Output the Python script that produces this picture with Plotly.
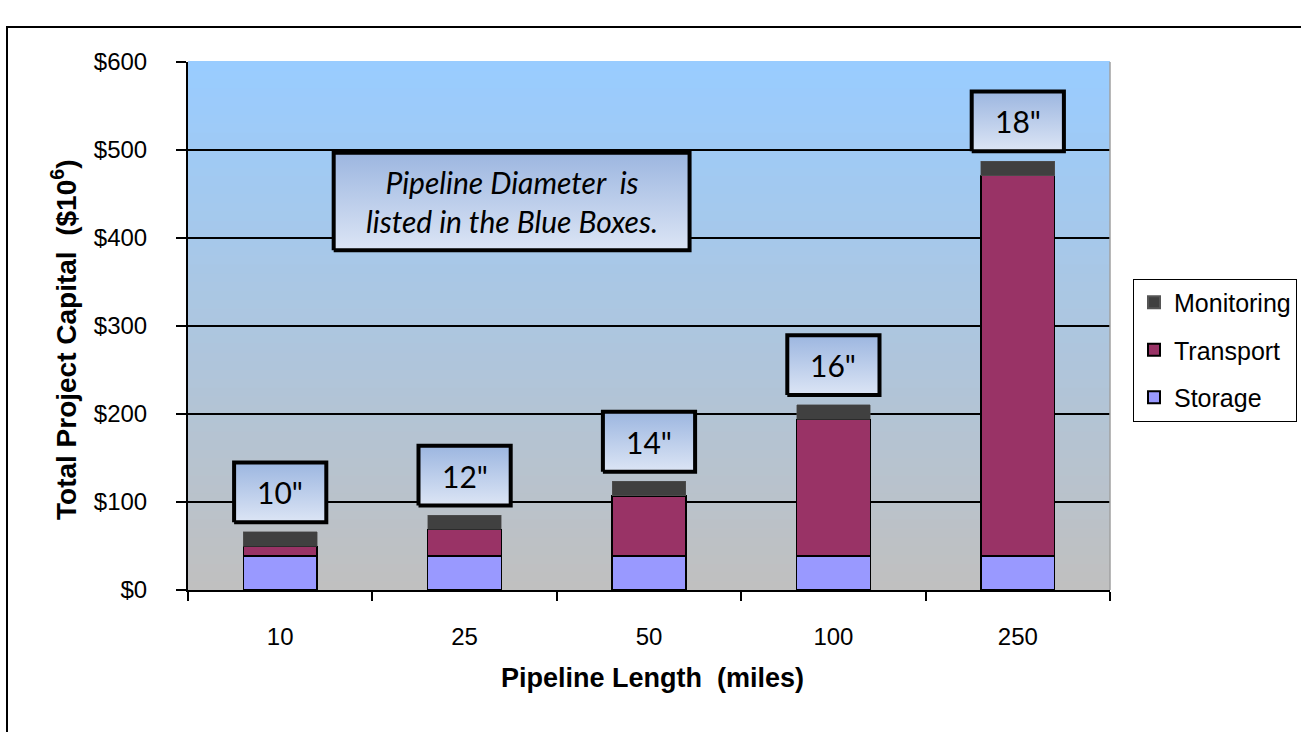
import plotly.graph_objects as go

# ---- data ----
lengths = ["10", "25", "50", "100", "250"]          # pipeline length (miles)
diameters = ['10"', '12"', '14"', '16"', '18"']      # pipeline diameter labels
storage = [38.5, 38.5, 38.5, 38.5, 38.5]
transport = [11, 30.5, 68.5, 155.5, 432.5]
monitoring = [16.5, 16, 16.5, 16.5, 16.5]
y_ticks = [0, 100, 200, 300, 400, 500, 600]
y_ticktext = ["$0", "$100", "$200", "$300", "$400", "$500", "$600"]

xpos = list(range(len(lengths)))
totals = [s + t + m for s, t, m in zip(storage, transport, monitoring)]

fig = go.Figure()

fig.add_trace(go.Bar(name="Storage", x=xpos, y=storage, width=0.4, legendgroup="s", legendrank=3,
                     marker=dict(color="#9999FF", line=dict(color="black", width=1.5))))
fig.add_trace(go.Bar(name="Transport", x=xpos, y=transport, width=0.4, legendgroup="t", legendrank=2,
                     marker=dict(color="#993366", line=dict(color="black", width=1.5))))
fig.add_trace(go.Bar(name="Monitoring", x=xpos, y=monitoring, width=0.4, legendgroup="m", legendrank=1,
                     marker=dict(color="#404040", line=dict(color="#555555", width=0.5))))

box_scale = [[0, "#DCE5F5"], [1, "#9CB6E0"]]
box_font = dict(family="Lato, Open Sans, sans-serif", size=30, color="black")

# diameter label boxes above each bar
gap = 11   # $ units above bar
bh = 68    # box height in $ units
bw = 0.25  # half width in category units
for x, tot, d in zip(xpos, totals, diameters):
    y0 = tot + gap
    y1 = y0 + bh
    fig.add_trace(go.Scatter(
        x=[x - bw, x + bw, x + bw, x - bw, x - bw],
        y=[y0, y0, y1, y1, y0],
        mode="lines", fill="toself",
        fillgradient=dict(type="vertical", colorscale=box_scale),
        line=dict(color="black", width=4),
        showlegend=False, hoverinfo="skip"))
    fig.add_annotation(x=x, y=(y0 + y1) / 2, text=d, showarrow=False, font=box_font)

# note box
nx0, nx1, ny0, ny1 = 0.29, 2.22, 386, 497
fig.add_trace(go.Scatter(
    x=[nx0, nx1, nx1, nx0, nx0], y=[ny0, ny0, ny1, ny1, ny0],
    mode="lines", fill="toself",
    fillgradient=dict(type="vertical", colorscale=box_scale),
    line=dict(color="black", width=4),
    showlegend=False, hoverinfo="skip"))
fig.add_annotation(x=(nx0 + nx1) / 2, y=(ny0 + ny1) / 2,
                   text="<i>Pipeline Diameter  is<br>listed in the Blue Boxes.</i>",
                   showarrow=False, align="center", font=box_font)

# axis titles
fig.add_annotation(xref="paper", yref="paper", x=(652 - 188) / 922, y=(590 - 678) / 528,
                   text="<b>Pipeline Length  (miles)</b>", showarrow=False,
                   xanchor="center", yanchor="middle", font=dict(size=27))
fig.add_annotation(xref="paper", yref="paper", x=(64 - 188) / 922, y=(590 - 340) / 528,
                   text="<b>Total Project Capital  ($10<sup>6</sup>)</b>", showarrow=False,
                   textangle=-90, xanchor="center", yanchor="middle", font=dict(size=28))

# gradient plot background (blue top -> gray bottom)
shapes = []
n = 60
top = (153, 204, 255)
bot = (192, 192, 192)
for i in range(n):
    f = i / (n - 1)
    c = tuple(round(bot[k] + (top[k] - bot[k]) * f) for k in range(3))
    shapes.append(dict(type="rect", xref="paper", yref="paper",
                       x0=0, x1=1, y0=i / n, y1=(i + 1) / n + 0.002,
                       fillcolor="rgb(%d,%d,%d)" % c, line=dict(width=0), layer="below"))
# outer frame
shapes.append(dict(type="rect", xref="paper", yref="paper",
                   x0=(7 - 188) / 922, x1=(1320 - 188) / 922,
                   y0=(590 - 745) / 528, y1=(590 - 27) / 528,
                   line=dict(color="black", width=2), fillcolor="rgba(0,0,0,0)", layer="above"))
# right plot border
shapes.append(dict(type="line", xref="paper", yref="paper", x0=1, x1=1, y0=0, y1=1,
                   line=dict(color="#A0A0A0", width=1.5), layer="above"))

fig.update_layout(
    width=1301, height=732,
    margin=dict(l=188, r=191, t=62, b=142),
    barmode="stack",
    paper_bgcolor="white",
    plot_bgcolor="#C0C0C0",
    shapes=shapes,
    font=dict(family="Arial, Liberation Sans, sans-serif", color="black"),
    showlegend=True,
    legend=dict(traceorder="grouped", xref="container", yref="container",
                x=1133 / 1301, xanchor="left", y=(732 - 350) / 732, yanchor="middle",
                bordercolor="black", borderwidth=1, bgcolor="white",
                font=dict(size=25, family="Arial, Liberation Sans, sans-serif"),
                itemsizing="constant", tracegroupgap=12, itemwidth=30),
    xaxis=dict(range=[-0.5, 4.5], tickvals=xpos, ticktext=lengths, ticks="",
               tickfont=dict(size=24), showgrid=False, zeroline=False,
               showline=True, linecolor="black", linewidth=2, ticklabelstandoff=24,
               minor=dict(tickvals=[i - 0.5 for i in range(len(lengths) + 1)],
                          ticks="outside", ticklen=9, tickwidth=2, tickcolor="black", showgrid=False)),
    yaxis=dict(range=[0, 600], tickvals=y_ticks, ticktext=y_ticktext,
               ticks="outside", ticklen=10, tickwidth=2, tickcolor="black", ticklabelstandoff=24,
               tickfont=dict(size=24), showgrid=True, gridcolor="black", gridwidth=1.5,
               zeroline=False, showline=True, linecolor="black", linewidth=2),
)

fig.write_html("out.html", config={"displayModeBar": False},
               post_script="document.body.style.margin='0';document.body.style.overflow='hidden';")
